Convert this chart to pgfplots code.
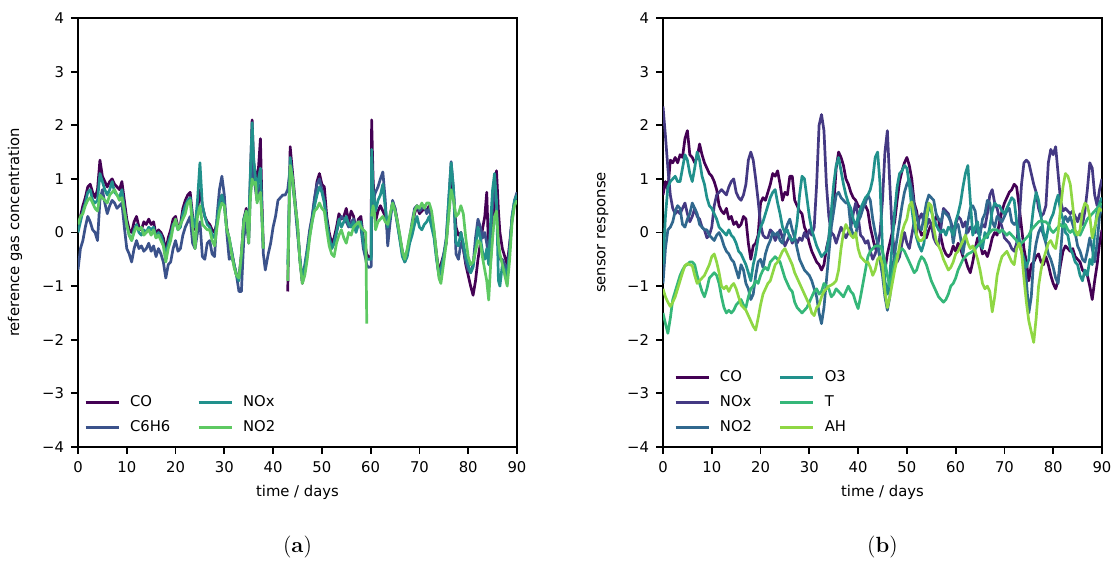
\documentclass[border=0pt]{standalone}
\usepackage{fontspec}
\setsansfont{DejaVu Sans}
\usepackage{pgfplots}
\usepackage{pgfplotstable}
\pgfplotsset{compat=1.18}

% viridis samples
\definecolor{vA0}{HTML}{440154}
\definecolor{vA1}{HTML}{3B528B}
\definecolor{vA2}{HTML}{21918C}
\definecolor{vA3}{HTML}{5EC962}
\definecolor{vB0}{HTML}{440154}
\definecolor{vB1}{HTML}{443983}
\definecolor{vB2}{HTML}{31688E}
\definecolor{vB3}{HTML}{21918C}
\definecolor{vB4}{HTML}{35B779}
\definecolor{vB5}{HTML}{8FD744}

% (a) reference gas concentration
\pgfplotstableread{
t CO C6H6 NOx NO2
0.0 0.10 -0.70 0.00 0.15
0.5 0.30 -0.30 0.20 0.30
1.0 0.50 -0.15 0.40 0.35
1.5 0.65 0.10 0.55 0.50
2.0 0.85 0.30 0.75 0.60
2.5 0.90 0.20 0.80 0.65
3.0 0.75 0.05 0.60 0.55
3.5 0.65 0.00 0.55 0.45
4.0 0.80 -0.15 0.60 0.40
4.5 1.35 0.60 1.10 0.70
5.0 1.05 0.80 0.95 0.65
5.5 0.95 0.55 0.80 0.60
6.0 0.85 0.35 0.70 0.55
6.5 0.95 0.50 0.80 0.70
7.0 1.00 0.60 0.95 0.75
7.5 0.90 0.55 0.75 0.80
8.0 0.85 0.45 0.70 0.70
8.5 0.80 0.50 0.65 0.60
9.0 0.95 0.55 0.80 0.65
9.5 0.60 0.10 0.45 0.40
10.0 0.25 -0.30 0.15 0.15
10.5 0.05 -0.40 -0.05 -0.05
11.0 0.00 -0.55 -0.15 -0.15
11.5 0.20 -0.30 0.05 0.00
12.0 0.30 -0.15 0.15 0.10
12.5 0.10 -0.30 0.00 0.05
13.0 0.05 -0.25 -0.05 0.10
13.5 0.20 -0.35 0.05 -0.05
14.0 0.15 -0.30 0.00 0.00
14.5 0.25 -0.20 0.10 0.05
15.0 0.15 -0.35 0.05 -0.05
15.5 0.20 -0.25 0.10 0.05
16.0 -0.05 -0.45 -0.10 -0.10
16.5 0.05 -0.30 0.00 -0.05
17.0 0.00 -0.40 -0.05 -0.15
17.5 -0.10 -0.55 -0.20 -0.25
18.0 -0.35 -0.85 -0.45 -0.55
18.5 -0.10 -0.60 -0.20 -0.30
19.0 0.05 -0.55 -0.05 -0.15
19.5 0.25 -0.30 0.15 0.10
20.0 0.30 -0.15 0.20 0.25
20.5 0.10 -0.35 0.05 0.05
21.0 0.15 -0.30 0.10 0.15
21.5 0.45 -0.05 0.35 0.25
22.0 0.60 0.10 0.50 0.35
22.5 0.70 0.20 0.60 0.55
23.0 0.75 0.30 0.65 0.60
23.5 0.30 -0.20 0.25 0.10
24.0 0.05 -0.30 0.10 -0.30
24.5 0.40 0.00 0.60 0.30
25.0 0.80 0.20 1.30 0.50
25.5 0.50 -0.45 0.50 0.15
26.0 0.30 -0.50 0.30 0.10
26.5 0.20 -0.20 0.15 0.05
27.0 0.15 -0.15 0.10 0.05
27.5 0.05 -0.40 -0.05 -0.15
28.0 0.00 -0.45 -0.10 -0.25
28.5 0.20 0.30 0.20 0.10
29.0 0.50 0.80 0.55 0.40
29.5 0.70 1.05 0.70 0.55
30.0 0.55 0.70 0.50 0.50
30.5 0.10 0.00 0.05 0.05
31.0 -0.15 -0.50 -0.10 -0.10
31.5 -0.35 -0.45 -0.35 -0.40
32.0 -0.60 -0.60 -0.60 -0.65
32.5 -0.80 -0.80 -0.80 -0.80
33.0 -0.85 -1.10 -0.90 -0.85
33.5 -0.40 -1.10 -0.45 -0.40
34.0 0.25 -0.10 0.25 0.20
34.5 0.45 0.20 0.40 0.40
35.0 0.00 -0.20 0.10 -0.20
35.3 0.90 0.60 1.00 0.60
35.7 2.10 1.40 2.05 1.00
36.0 1.30 1.10 1.40 0.90
36.4 1.10 0.80 1.00 0.94
36.7 0.90 0.60 0.80 0.55
37.0 1.20 0.80 1.00 0.65
37.4 1.75 0.90 1.20 0.75
37.7 0.60 0.30 0.40 0.30
38.0 -0.30 -0.40 -0.30 -0.30
38.4 nan -0.70 nan nan
39.0 nan -0.40 nan nan
39.5 nan -0.20 nan nan
40.0 nan 0.10 nan nan
40.5 nan 0.30 nan nan
41.0 nan 0.60 nan nan
41.5 nan 0.65 nan nan
42.0 nan 0.70 nan nan
42.5 nan 0.70 nan nan
43.0 -1.10 0.80 -0.60 -0.90
43.5 1.60 1.20 1.40 1.25
44.0 1.10 0.90 1.00 1.00
44.5 0.60 0.50 0.55 0.50
45.0 0.10 0.00 0.10 0.20
45.5 -0.50 -0.50 -0.50 -0.55
46.0 -0.95 -0.90 -0.90 -0.95
46.5 -0.70 -0.60 -0.65 -0.80
47.0 -0.40 -0.30 -0.35 -0.50
47.5 0.00 0.05 -0.05 -0.10
48.0 0.25 0.30 0.20 0.20
48.5 0.60 0.65 0.50 0.40
49.0 0.95 0.90 0.70 0.45
49.5 1.10 1.00 0.85 0.55
50.0 0.90 0.80 0.75 0.45
50.5 0.85 0.60 0.55 0.40
51.0 0.30 0.20 0.20 0.05
51.5 0.00 -0.10 -0.10 -0.25
52.0 -0.20 -0.30 -0.30 -0.40
52.5 -0.10 -0.20 -0.20 -0.45
53.0 0.10 0.00 0.00 -0.20
53.5 0.35 0.20 0.25 -0.05
54.0 0.25 0.30 0.10 0.05
54.5 0.30 0.25 0.20 -0.10
55.0 0.45 0.20 0.30 -0.20
55.5 0.20 0.10 0.15 0.00
56.0 0.40 0.20 0.10 -0.05
56.5 0.30 0.25 0.20 0.10
57.0 0.05 0.10 0.00 0.15
57.5 0.25 0.20 0.15 0.20
58.0 0.30 0.10 0.20 0.10
58.5 -0.10 -0.30 -0.20 0.05
59.0 -0.30 -0.50 -0.40 0.00
59.2 -0.40 -0.60 -0.50 -1.70
59.5 -0.45 -0.65 -0.50 nan
60.1 -0.45 -0.64 -0.50 nan
60.2 2.10 0.30 1.55 0.30
60.5 1.00 0.50 0.80 0.50
60.8 0.50 0.70 0.55 0.35
61.0 0.20 0.75 0.40 0.05
61.5 0.40 0.85 0.60 0.20
62.0 0.50 1.00 0.70 0.25
62.5 0.40 1.13 0.90 0.30
63.0 0.30 0.60 0.45 0.20
63.5 0.00 -0.25 0.10 0.15
64.0 0.30 0.20 0.30 0.35
64.5 0.55 0.60 0.55 0.55
65.0 0.45 0.45 0.40 0.40
65.5 0.20 0.15 0.15 0.20
66.0 -0.10 -0.10 -0.15 -0.05
66.5 -0.35 -0.40 -0.45 -0.35
67.0 -0.50 -0.55 -0.55 -0.50
67.5 -0.35 -0.40 -0.45 -0.30
68.0 -0.10 -0.10 -0.20 -0.05
68.5 0.10 0.20 -0.05 0.15
69.0 0.35 0.45 0.15 0.40
69.5 0.50 0.50 0.30 0.50
70.0 0.35 0.40 0.10 0.45
70.5 0.40 0.45 0.05 0.55
71.0 0.45 0.50 0.15 0.45
71.5 0.40 0.35 0.20 0.55
72.0 0.50 0.45 0.30 0.55
72.5 0.30 0.25 0.10 0.40
73.0 0.00 -0.05 -0.10 0.05
73.5 -0.40 -0.45 -0.50 -0.40
74.0 -0.75 -0.80 -0.80 -0.85
74.4 -0.60 -0.70 -0.70 -0.95
75.0 -0.40 -0.40 -0.45 -0.55
75.5 -0.20 -0.10 -0.15 -0.20
76.0 0.40 0.60 0.60 0.30
76.5 1.10 1.32 1.30 0.80
77.0 0.70 0.80 0.80 0.60
77.5 0.10 -0.40 -0.20 0.30
78.0 -0.05 -0.50 -0.25 0.35
78.5 0.00 -0.20 0.00 0.50
79.0 -0.30 -0.30 -0.20 0.35
79.5 -0.60 -0.55 -0.45 -0.10
80.0 -0.80 -0.70 -0.60 -0.45
80.5 -1.00 -0.75 -0.75 -0.60
81.0 -1.17 -0.60 -0.65 -0.55
81.5 -0.90 -0.10 -0.30 -0.35
82.0 -0.50 0.25 0.10 -0.15
82.5 -0.20 0.10 -0.10 -0.20
83.0 0.10 -0.10 -0.40 -0.50
83.4 0.30 0.00 -0.50 -0.70
83.8 0.75 -0.20 -0.30 -0.90
84.2 -0.40 -0.50 -0.60 -1.26
84.6 -0.50 0.00 0.20 -0.60
85.0 0.00 0.50 0.80 -0.10
85.4 0.60 0.90 1.10 0.30
85.8 1.15 0.50 0.60 0.40
86.2 0.40 -0.30 -0.90 -0.20
86.5 0.00 -0.50 -1.00 -0.40
87.0 -0.30 -0.50 -0.60 -0.60
87.5 -0.45 -0.60 -0.70 -0.80
88.0 -0.60 -0.75 -0.85 -1.00
88.5 -0.20 -0.30 -0.30 -0.50
89.0 0.25 0.30 0.30 0.20
89.5 0.55 0.60 0.60 0.50
90.0 0.70 0.75 0.70 0.60
}\tabA

% (b) sensor response
\pgfplotstableread{
t CO NOx NO2 O3 T AH
0 0.70 2.35 -0.95 -0.60 -1.50 -1.05
0.5 0.95 1.80 -0.30 0.30 -1.70 -1.20
1 0.80 1.20 0.05 0.85 -1.88 -1.30
1.5 1.35 0.70 0.10 0.95 -1.60 -1.38
2 1.30 0.45 0.20 1.00 -1.25 -1.30
2.5 1.40 0.35 0.40 1.05 -1.10 -1.20
3 1.30 0.40 0.50 0.95 -0.95 -1.05
3.5 1.45 0.35 0.45 0.95 -0.80 -0.90
4 1.40 0.45 0.15 1.20 -0.70 -0.75
4.5 1.75 0.55 0.10 1.45 -0.62 -0.62
5 1.90 0.35 0.25 1.35 -0.60 -0.58
5.5 1.45 0.20 0.35 1.10 -0.55 -0.60
6 1.40 0.30 0.55 0.95 -0.55 -0.62
6.5 1.30 0.45 0.45 1.20 -0.60 -0.80
7 1.40 0.30 0.35 1.50 -0.80 -0.95
7.5 1.65 0.25 0.15 1.35 -0.95 -0.90
8 1.45 0.10 0.10 1.05 -1.10 -0.85
8.5 1.30 0.05 0.05 0.90 -1.20 -0.80
9 1.20 -0.10 0.05 0.65 -1.05 -0.70
9.5 1.10 -0.05 -0.05 0.50 -0.85 -0.60
10 1.05 0.10 -0.10 0.45 -0.80 -0.45
10.5 0.95 0.50 -0.15 0.35 -0.75 -0.40
11 0.80 0.70 -0.05 0.25 -0.80 -0.55
11.5 0.50 0.75 0.00 0.10 -0.95 -0.75
12 0.40 0.80 -0.10 0.05 -1.20 -1.00
12.5 0.35 0.75 -0.25 0.00 -1.40 -1.05
13 0.45 0.70 -0.35 -0.05 -1.50 -1.00
13.5 0.25 0.85 -0.40 0.05 -1.45 -1.10
14 0.30 0.95 -0.50 -0.05 -1.50 -1.00
14.5 0.15 1.00 -0.55 -0.10 -1.45 -0.95
15 0.20 0.75 -0.70 -0.20 -1.35 -1.05
15.5 0.10 0.65 -0.85 -0.35 -1.30 -1.20
16 0.15 0.60 -0.60 -0.40 -1.25 -1.35
16.5 0.30 0.70 -0.70 -0.50 -1.35 -1.40
17 0.25 0.90 -0.95 -0.60 -1.40 -1.45
17.5 -0.20 1.35 -1.05 -0.75 -1.20 -1.55
18 -0.50 1.50 -1.25 -0.90 -1.05 -1.65
18.5 -0.25 1.35 -1.15 -0.60 -1.00 -1.75
19 -0.20 1.00 -0.80 -0.40 -0.90 -1.82
19.5 -0.05 0.60 -0.55 -0.10 -0.95 -1.60
20 0.55 0.15 -0.50 0.10 -0.80 -1.35
20.5 0.65 -0.05 -0.65 0.20 -0.70 -1.15
21 0.60 -0.10 -0.40 0.35 -0.65 -1.05
21.5 0.75 -0.10 -0.25 0.50 -0.70 -0.95
22 0.90 0.05 -0.15 0.65 -0.55 -0.90
22.5 1.10 0.00 0.00 0.75 -0.50 -0.75
23 1.05 -0.15 -0.05 0.80 -0.45 -0.60
23.5 1.15 -0.05 0.00 0.55 -0.50 -0.55
24 0.90 0.05 -0.15 0.35 -0.55 -0.45
24.5 0.60 -0.10 -0.20 0.10 -0.70 -0.35
25 0.75 -0.25 0.00 0.00 -0.85 -0.30
25.5 0.70 -0.15 0.15 0.05 -0.95 -0.40
26 1.05 -0.05 0.25 -0.10 -1.05 -0.50
26.5 1.05 -0.20 0.05 -0.15 -1.10 -0.60
27 0.60 -0.10 -0.10 -0.10 -1.30 -0.75
27.5 0.50 -0.20 -0.30 0.20 -1.40 -0.85
28 0.40 -0.10 -0.50 0.70 -1.45 -0.95
28.5 0.35 -0.15 -0.60 1.05 -1.50 -1.05
29 0.10 0.00 -0.70 1.00 -1.45 -1.15
29.5 0.00 -0.10 -0.75 0.65 -1.40 -1.25
30 -0.20 0.05 -0.80 0.30 -1.30 -1.35
30.5 -0.35 -0.05 -0.90 0.05 -1.20 -1.50
31 -0.45 0.10 -1.05 -0.10 -1.10 -1.55
31.5 -0.55 0.90 -1.20 -0.25 -1.05 -1.40
32 -0.60 2.00 -1.50 -0.35 -1.15 -1.35
32.5 -0.70 2.20 -1.70 -0.45 -1.10 -1.20
33 -0.60 1.90 -1.40 -0.40 -0.95 -1.10
33.5 -0.30 0.90 -0.90 -0.35 -1.00 -1.05
34 -0.10 0.30 -0.40 -0.10 -1.05 -1.00
34.5 0.30 0.00 0.10 0.40 -1.20 -0.98
35 0.50 -0.05 0.40 0.90 -1.15 -0.95
35.5 1.20 -0.20 0.70 1.25 -1.05 -0.90
36 1.50 -0.05 0.75 1.40 -1.10 -0.70
36.5 1.40 0.10 0.65 1.15 -1.15 -0.30
37 1.25 0.00 0.60 0.90 -1.20 0.00
37.5 1.00 -0.10 0.55 0.70 -1.10 0.15
38 0.90 0.00 0.55 0.55 -1.00 0.05
38.5 0.75 0.10 0.10 0.45 -1.10 -0.05
39 0.65 0.35 -0.05 0.25 -1.15 -0.10
39.5 0.60 0.55 -0.05 0.10 -1.30 0.00
40 0.50 0.30 0.20 0.30 -1.42 -0.30
40.5 0.45 -0.05 0.30 0.45 -1.20 -0.45
41 0.50 -0.10 0.45 0.55 -0.95 -0.50
41.5 0.50 -0.20 0.55 0.65 -0.70 -0.55
42 0.40 -0.15 0.70 0.70 -0.45 -0.55
42.5 0.10 -0.35 0.60 0.80 -0.35 -0.65
43 -0.10 -0.50 0.25 1.00 -0.30 -0.80
43.5 -0.30 -0.40 0.00 1.40 -0.25 -0.70
44 -0.20 -0.25 -0.20 1.50 -0.25 -0.50
44.5 -0.50 0.00 -0.50 0.90 -0.25 -0.45
45 -0.75 0.60 -0.80 -0.30 -0.35 -0.60
45.5 -0.70 1.50 -1.20 -0.90 -0.55 -1.10
46 -0.40 1.90 -1.45 -1.15 -0.80 -1.40
46.5 -0.20 0.90 -1.20 -0.80 -1.00 -1.20
47 0.00 0.00 -0.70 -0.20 -0.80 -0.95
47.5 0.20 -0.40 -0.40 0.40 -0.55 -0.70
48 0.60 -0.55 -0.10 0.85 -0.40 -0.50
48.5 0.95 -0.45 0.20 1.10 -0.35 -0.25
49 1.15 -0.20 0.50 1.15 -0.30 0.00
49.5 1.30 0.00 0.75 1.25 -0.35 0.15
50 1.40 -0.20 0.90 1.20 -0.45 0.25
50.5 1.25 -0.30 1.00 0.90 -0.55 0.50
51 1.00 -0.05 0.80 0.45 -0.65 0.57
51.5 0.55 0.20 0.50 0.10 -0.75 0.30
52 0.40 0.00 0.30 -0.10 -0.70 -0.05
52.5 0.10 0.25 0.10 -0.25 -0.55 -0.15
53 -0.05 0.35 0.05 -0.35 -0.45 -0.15
53.5 0.00 0.20 0.30 -0.20 -0.50 -0.10
54 -0.10 0.10 0.55 0.20 -0.60 0.30
54.5 0.05 0.25 0.70 0.50 -0.75 0.55
55 0.15 0.15 0.65 0.40 -0.90 0.50
55.5 0.10 -0.10 0.60 0.25 -1.00 0.10
56 0.30 -0.20 0.35 0.15 -1.10 -0.15
56.5 0.25 -0.25 0.25 0.05 -1.20 -0.25
57 -0.10 0.10 0.20 0.00 -1.25 -0.35
57.5 -0.30 0.45 0.40 0.05 -1.30 -0.50
58 -0.40 0.40 0.35 -0.05 -1.25 -0.60
58.5 -0.45 0.35 0.30 0.10 -1.15 -0.70
59 -0.40 0.20 0.20 0.05 -1.00 -0.65
59.5 -0.25 0.05 -0.20 -0.05 -0.95 -0.55
60 -0.35 0.15 0.10 0.20 -0.85 -0.40
60.5 -0.20 0.30 0.15 0.35 -0.70 -0.35
61 -0.30 0.25 -0.10 0.55 -0.60 -0.25
61.5 -0.45 0.10 -0.40 0.85 -0.50 -0.15
62 -0.50 0.20 -0.10 1.10 -0.45 -0.05
62.5 -0.65 0.00 0.20 1.25 -0.40 -0.20
63 -0.75 0.10 0.45 0.60 -0.38 -0.30
63.5 -0.55 0.05 0.50 -0.05 -0.35 -0.25
64 -0.30 0.00 0.40 0.10 -0.30 -0.35
64.5 -0.10 0.10 0.00 0.20 -0.25 -0.50
65 -0.20 0.05 -0.05 -0.20 -0.20 -0.70
65.5 -0.40 0.15 0.25 -0.30 -0.15 -0.95
66 -0.35 0.10 0.35 0.00 -0.10 -1.05
66.5 -0.45 0.35 0.60 -0.10 -0.05 -1.00
67 -0.30 0.70 0.55 0.10 0.00 -1.10
67.5 -0.10 0.80 0.20 0.40 0.05 -1.48
68 0.00 0.55 0.10 0.55 0.05 -1.20
68.5 -0.05 0.45 0.30 0.50 0.05 -0.80
69 0.20 0.25 0.25 0.50 0.00 -0.60
69.5 0.40 0.10 0.20 0.40 0.05 -0.45
70 0.55 -0.10 0.30 0.35 0.00 -0.40
70.5 0.65 -0.15 0.40 0.45 -0.05 -0.35
71 0.75 -0.20 0.45 0.55 0.00 -0.45
71.5 0.80 -0.30 0.20 0.65 -0.05 -0.55
72 0.90 -0.35 0.15 0.60 -0.10 -0.60
72.5 0.85 -0.20 0.20 0.20 -0.15 -0.30
73 0.50 0.20 -0.20 -0.10 -0.25 -0.20
73.5 0.10 0.90 -0.35 -0.35 -0.20 -0.35
74 -0.30 1.30 -0.50 -0.50 -0.15 -0.85
74.5 -0.55 1.35 -0.90 -0.65 -0.10 -1.30
75 -0.90 1.30 -1.50 -0.50 -0.05 -1.65
75.5 -0.60 1.10 -1.20 0.10 0.05 -1.85
76 -0.55 0.90 -0.50 0.50 0.10 -2.05
76.5 -0.45 0.75 -0.20 0.75 0.15 -1.60
77 -0.40 0.45 0.00 0.60 0.20 -1.00
77.5 -0.55 0.30 0.10 0.30 0.22 -0.70
78 -0.60 0.35 -0.05 0.00 0.20 -0.50
78.5 -0.45 0.50 -0.20 -0.15 0.20 -0.35
79 -0.60 1.30 -0.40 0.10 0.15 -0.20
79.5 -0.80 1.55 -0.50 0.25 0.05 -0.15
80 -0.95 1.45 -0.65 0.35 0.00 -0.25
80.5 -1.05 1.60 -0.85 0.55 0.05 -0.30
81 -0.90 1.10 -0.95 0.70 0.10 0.00
81.5 -0.60 0.60 -0.40 0.40 0.15 0.45
82 -0.35 0.40 0.20 0.25 0.10 0.85
82.5 -0.25 0.45 0.30 0.00 0.15 1.10
83 -0.30 0.40 0.20 -0.05 0.05 1.05
83.5 -0.35 0.35 0.30 -0.30 0.00 0.90
84 -0.30 0.40 0.15 -0.40 0.05 0.50
84.5 -0.45 0.30 0.00 -0.55 -0.05 0.05
85 -0.50 0.20 -0.25 -0.60 0.00 -0.05
85.5 -0.55 0.35 -0.35 -0.80 -0.05 0.05
86 -0.70 0.15 -0.50 -0.90 0.05 0.40
86.5 -0.75 0.40 -0.55 -0.70 0.15 0.55
87 -0.80 0.80 -0.35 -0.80 0.25 0.50
87.5 -1.00 1.30 -0.10 -0.50 0.30 0.30
88 -1.25 1.20 -0.30 -0.60 0.35 -0.10
88.5 -0.90 0.70 -0.55 0.00 0.40 0.10
89 -0.60 0.50 -0.20 0.40 0.45 0.30
89.5 -0.20 0.80 0.30 0.55 0.50 0.45
90 0.05 1.00 0.50 0.65 0.55 0.40
}\tabB

\pgfplotsset{
  panel/.style={
    scale only axis,
    width=219.5pt, height=214.5pt,
    xmin=0, xmax=90, ymin=-4, ymax=4,
    xtick={0,10,...,90},
    ytick={-4,-3,-2,-1,0,1,2,3,4},
    yticklabels={−4,−3,−2,−1,0,1,2,3,4},
    tick pos=left, tick align=outside,
    major tick length=3.5pt,
    every tick/.style={black, line width=0.9pt},
    axis line style={line width=1.1pt},
    font=\fontsize{7.4}{8.9}\sffamily,
    ticklabel style={font=\fontsize{7.4}{8.9}\sffamily},
    /pgf/number format/assume math mode=true,
    xlabel={time / days},
    xlabel style={at={(axis description cs:0.5,-0.107)}, anchor=center},
    unbounded coords=jump,
    every axis plot/.append style={line width=1.35pt, line join=round},
    legend cell align=left,
    transpose legend,
    legend image code/.code={\draw[##1] (0pt,0pt) -- (16.5pt,0pt); \path (19.5pt,0pt);},
    legend style={draw=none, fill=none, anchor=south west,
      font=\fontsize{7.4}{8.9}\sffamily,
      row sep=1.5pt,
      /tikz/every even column/.append style={column sep=11.5pt}},
  }
}

\begin{document}
\begin{tikzpicture}
\path[use as bounding box] (-39pt,-59.5pt) rectangle (518.5pt,223.5pt);

\begin{axis}[panel, at={(0pt,0pt)}, anchor=south west,
  ylabel={reference gas concentration},
  ylabel style={at={(axis description cs:-0.1435,0.5)}, anchor=center},
  legend columns=2,
  legend style={at={(axis description cs:0.0,0.010)}}]
\addplot[vA0] table[x=t, y=CO] {\tabA};
\addplot[vA1] table[x=t, y=C6H6] {\tabA};
\addplot[vA2] table[x=t, y=NOx] {\tabA};
\addplot[vA3] table[x=t, y=NO2] {\tabA};
\legend{CO, C6H6, NOx, NO2}
\end{axis}

\begin{axis}[panel, at={(292.5pt,0pt)}, anchor=south west,
  ylabel={sensor response},
  ylabel style={at={(axis description cs:-0.137,0.5)}, anchor=center},
  legend columns=3,
  legend style={at={(axis description cs:0.011,0.010)}}]
\addplot[vB0] table[x=t, y=CO] {\tabB};
\addplot[vB1] table[x=t, y=NOx] {\tabB};
\addplot[vB2] table[x=t, y=NO2] {\tabB};
\addplot[vB3] table[x=t, y=O3] {\tabB};
\addplot[vB4] table[x=t, y=T] {\tabB};
\addplot[vB5] table[x=t, y=AH] {\tabB};
\legend{CO, NOx, NO2, O3, T, AH}
\end{axis}

\node[font=\fontsize{11}{13}\selectfont] at (109.75pt,-50pt) {(\textbf{a})};
\node[font=\fontsize{11}{13}\selectfont] at (402.25pt,-50pt) {(\textbf{b})};
\end{tikzpicture}
\end{document}
